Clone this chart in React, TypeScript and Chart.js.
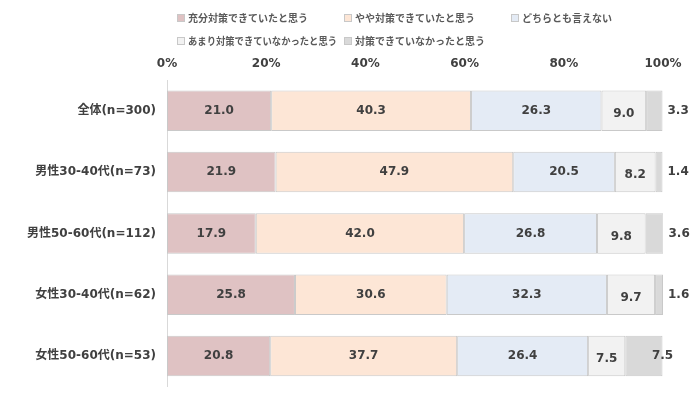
import React, { useEffect, useRef } from "react";
import { Chart, registerables } from "chart.js";

Chart.register(...registerables);

const categories = [
  "全体(n=300)",
  "男性30-40代(n=73)",
  "男性50-60代(n=112)",
  "女性30-40代(n=62)",
  "女性50-60代(n=53)",
];
const seriesNames = [
  "充分対策できていたと思う",
  "やや対策できていたと思う",
  "どちらとも言えない",
  "あまり対策できていなかったと思う",
  "対策できていなかったと思う",
];
const s1 = [21.0, 21.9, 17.9, 25.8, 20.8];
const s2 = [40.3, 47.9, 42.0, 30.6, 37.7];
const s3 = [26.3, 20.5, 26.8, 32.3, 26.4];
const s4 = [9.0, 8.2, 9.8, 9.7, 7.5];
const s5 = [3.3, 1.4, 3.6, 1.6, 7.5];
const colors = ["#dfc2c3", "#fde6d6", "#e4ebf5", "#f2f2f2", "#d9d9d9"];

const FONT = "'DejaVu Sans', 'Noto Sans CJK JP', sans-serif";

const labelPlugin = {
  id: "segLabels",
  afterDatasetsDraw(chart: any) {
    const ctx = chart.ctx;
    ctx.save();
    ctx.font = `bold 12px ${FONT}`;
    ctx.fillStyle = "#404040";
    ctx.textBaseline = "middle";
    const n = chart.data.datasets.length;
    chart.data.datasets.forEach((ds: any, di: number) => {
      const meta = chart.getDatasetMeta(di);
      meta.data.forEach((el: any, i: number) => {
        const v = ds.data[i];
        const txt = v.toFixed(1);
        if (di === n - 1) {
          if (v < 5) {
            ctx.textAlign = "left";
            ctx.fillText(txt, el.x + 5, el.y);
          } else {
            ctx.textAlign = "center";
            ctx.fillText(txt, el.x, el.y);
          }
        } else {
          ctx.textAlign = "center";
          ctx.fillText(txt, (el.x + el.base) / 2, el.y + (di === 3 ? 3 : 0));
        }
      });
    });
    ctx.restore();
  },
};

const legendPlugin = {
  id: "gridLegend",
  afterDraw(chart: any) {
    const ctx = chart.ctx;
    ctx.save();
    ctx.font = `bold 10px 'Noto Sans CJK JP', ${FONT}`;
    ctx.textBaseline = "middle";
    ctx.textAlign = "left";
    const left = chart.chartArea.left + 10;
    const colW = 167;
    chart.data.datasets.forEach((ds: any, i: number) => {
      const col = i % 3;
      const row = Math.floor(i / 3);
      const x = left + col * colW;
      const y = 18 + row * 23;
      ctx.fillStyle = ds.backgroundColor;
      ctx.fillRect(x, y - 4, 8, 8);
      ctx.strokeStyle = "#c8c8c8";
      ctx.lineWidth = 1;
      ctx.strokeRect(x + 0.5, y - 3.5, 7, 7);
      ctx.fillStyle = "#595959";
      ctx.fillText(ds.label, x + 11, y, colW - 18);
    });
    ctx.restore();
  },
};

export default function App() {
  const ref = useRef<HTMLCanvasElement>(null);
  useEffect(() => {
    if (!ref.current) return;
    const data = [s1, s2, s3, s4, s5];
    const chart = new Chart(ref.current, {
      type: "bar",
      data: {
        labels: categories,
        datasets: data.map((d, i) => ({
          label: seriesNames[i],
          data: d,
          backgroundColor: colors[i],
          borderColor: "#c9c9c9",
          borderWidth: 1,
          borderSkipped: false,
          categoryPercentage: 1,
          barPercentage: 0.66,
        })),
      },
      options: {
        indexAxis: "y",
        animation: false,
        responsive: true,
        maintainAspectRatio: false,
        layout: { padding: { left: 0, right: 37, top: 0, bottom: 12 } },
        plugins: { legend: { display: false }, tooltip: { enabled: false } },
        scales: {
          x: {
            position: "top",
            stacked: true,
            min: 0,
            max: 100,
            ticks: {
              stepSize: 20,
              callback: (v: any) => v + "%",
              font: { family: FONT, size: 12, weight: "bold" },
              color: "#404040",
              padding: 9,
            },
            grid: { display: false, drawTicks: false },
            border: { display: false },
            afterFit: (s: any) => {
              s.height = 80;
            },
          },
          y: {
            stacked: true,
            ticks: {
              font: { family: FONT, size: 12, weight: "bold" },
              color: "#404040",
              padding: 11,
            },
            grid: { display: false, drawTicks: false },
            border: { display: true, color: "#d9d9d9" },
            afterFit: (s: any) => {
              s.width = 167;
            },
          },
        },
      },
      plugins: [labelPlugin, legendPlugin],
    });
    return () => chart.destroy();
  }, []);
  return (
    <div style={{ position: "fixed", left: 0, top: 0, width: 700, height: 405, background: "#fff" }}>
      <canvas ref={ref} />
    </div>
  );
}
